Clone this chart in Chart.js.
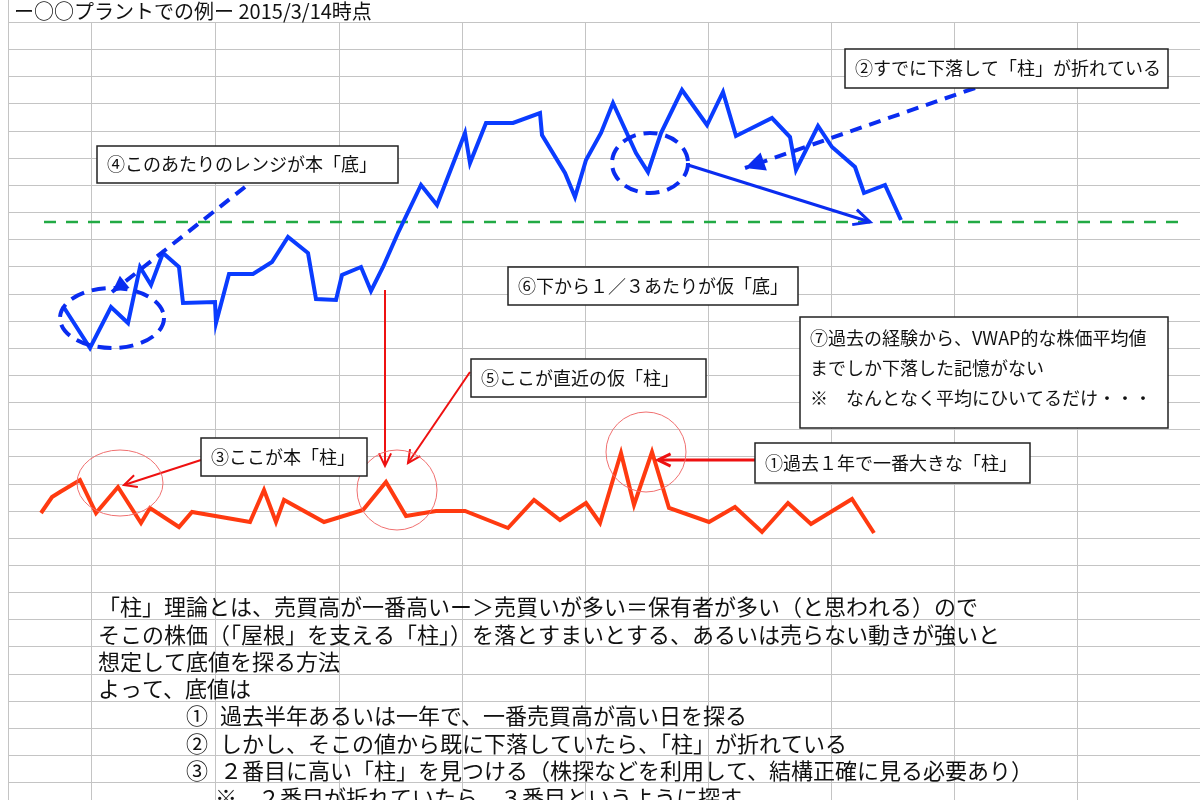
<!DOCTYPE html>
<html><head><meta charset="utf-8">
<script src="https://cdn.jsdelivr.net/npm/chart.js@4"></script>
<style>html,body{margin:0;padding:0;background:#fff}#w{width:1200px;height:800px}</style>
</head><body><div id="w"><canvas id="c"></canvas></div>
<script>
// price series (day position, value)
const blueDays=[63,90,111,128,140,151,163,179,183,215,216,229,253,272,288,308,316,336,342,361,371,383,398,421,437,465,470,486,513,540,542,565,575,586,601,613,636,648,661,682,707,723,736,772,790,796,818,832,855,864,885,901];
const blueVals=[494,452,493,477,533,515,547,533,497,498,477,526,526,538,563,547,501,500,525,533,509,533,567,615,595,667,637,677,677,687,665,627,603,640,667,697,647,628,667,710,675,708,664,682,663,630,674,653,633,607,615,580];
// volume series
const redDays=[41,52,60,80,96,118,141,150,179,192,250,264,276,284,324,363,386,406,436,465,508,534,560,586,600,621,634,652,669,709,735,762,788,811,852,874];
const redVals=[287,303,308,320,287,313,277,292,273,288,278,310,278,300,278,290,318,284,289,289,272,300,280,297,277,347,295,348,292,278,293,268,297,276,301,267];
const vwap=578;
const gridX=[8,91,215,339,462,585,708,831,954,1077,1200];
const notes=[
 "「柱」理論とは、売買高が一番高いー＞売買いが多い＝保有者が多い（と思われる）ので",
 "そこの株価（「屋根」を支える「柱」）を落とすまいとする、あるいは売らない動きが強いと",
 "想定して底値を探る方法",
 "よって、底値は"];
const steps=[["①","過去半年あるいは一年で、一番売買高が高い日を探る"],["②","しかし、そこの値から既に下落していたら、「柱」が折れている"],["③","２番目に高い「柱」を見つける（株探などを利用して、結構正確に見る必要あり）"],["※","２番目が折れていたら、３番目というように探す"]];
const F='"Noto Sans CJK JP","Noto Sans",sans-serif';

function arrowHead(ctx,x1,y1,x2,y2,size,fill){const a=Math.atan2(y2-y1,x2-x1);ctx.beginPath();ctx.moveTo(x2-size*Math.cos(a-0.45),y2-size*Math.sin(a-0.45));ctx.lineTo(x2,y2);ctx.lineTo(x2-size*Math.cos(a+0.45),y2-size*Math.sin(a+0.45));if(fill){ctx.closePath();ctx.fill();}else ctx.stroke();}
function arrow(ctx,x1,y1,x2,y2,col,w,dash,size,fill){ctx.save();ctx.strokeStyle=col;ctx.fillStyle=col;ctx.lineWidth=w;ctx.setLineDash(dash||[]);ctx.beginPath();ctx.moveTo(x1,y1);ctx.lineTo(x2,y2);ctx.stroke();ctx.setLineDash([]);arrowHead(ctx,x1,y1,x2,y2,size,fill);ctx.restore();}
function box(ctx,x1,y1,x2,y2,lines,fs,lh,ty){lh=lh||0;ctx.save();ctx.fillStyle='#fff';ctx.fillRect(x1,y1,x2-x1,y2-y1);ctx.strokeStyle='#222';ctx.lineWidth=1.5;ctx.strokeRect(x1,y1,x2-x1,y2-y1);ctx.fillStyle='#111';ctx.font=fs+'px '+F;ctx.textBaseline='middle';lines.forEach((t,i)=>ctx.fillText(t,x1+10,(ty||(y1+y2)/2)+i*lh));ctx.restore();}
function ell(ctx,cx,cy,rx,ry,col,w,dash){ctx.save();ctx.strokeStyle=col;ctx.lineWidth=w;ctx.setLineDash(dash||[]);ctx.beginPath();ctx.ellipse(cx,cy,rx,ry,0,0,Math.PI*2);ctx.stroke();ctx.restore();}

const bg={id:'bg',beforeDatasetsDraw(ch){const ctx=ch.ctx;ctx.save();ctx.strokeStyle='#c4c4c4';ctx.lineWidth=1;
 gridX.forEach(x=>{ctx.beginPath();ctx.moveTo(x+0.5,x===8?0:22);ctx.lineTo(x+0.5,800);ctx.stroke();});
 for(let y=22;y<800;y+=27.15){ctx.beginPath();ctx.moveTo(8,Math.round(y)+0.5);ctx.lineTo(1200,Math.round(y)+0.5);ctx.stroke();}
 ctx.fillStyle='#111';ctx.font='20px '+F;ctx.textBaseline='middle';ctx.fillText('ー○○プラントでの例ー 2015/3/14時点',14,11);
 ctx.font='22px '+F;notes.forEach((t,i)=>ctx.fillText(t,98,607+i*27.15));
 steps.forEach((s,i)=>{ctx.fillText(s[0],i===3?215:186,716+i*27.15);ctx.fillText(s[1],i===3?258:220,716+i*27.15);});
 ctx.restore();},
 afterDatasetsDraw(ch){const ctx=ch.ctx;
 arrow(ctx,245,187,112,292,'#0a2cf0',4,[12,8],18,true);
 arrow(ctx,975,88,745,168,'#0a2cf0',4,[12,8],22,true);
 arrow(ctx,688,165,870,222,'#0a2cf0',3,[],18,false);
 ell(ctx,112,318,52,30,'#0a2cf0',4,[14,8]);
 ell(ctx,650,163,38,30,'#0a2cf0',4,[14,8]);
 arrow(ctx,385,290,385,466,'#ee1111',2,[],14,false);
 arrow(ctx,470,372,408,463,'#ee1111',2,[],14,false);
 arrow(ctx,201,460,124,485,'#ee1111',2,[],14,false);
 arrow(ctx,755,460,658,460,'#ee1111',3,[],14,false);
 ell(ctx,120,483,43,33,'#f07070',1,[]);
 ell(ctx,397,490,40,40,'#f07070',1,[]);
 ell(ctx,646,452,40,40,'#f07070',1,[]);
 box(ctx,97,146,398,183,['④このあたりのレンジが本「底」'],18);
 box(ctx,845,49,1168,88,['②すでに下落して「柱」が折れている'],18);
 box(ctx,508,267,798,305,['⑥下から１／３あたりが仮「底」'],18);
 box(ctx,800,317,1168,428,['⑦過去の経験から、VWAP的な株価平均値','までしか下落した記憶がない','※　なんとなく平均にひいてるだけ・・・'],18,30,338);
 box(ctx,471,359,706,397,['⑤ここが直近の仮「柱」'],18);
 box(ctx,201,438,367,476,['③ここが本「柱」'],18);
 box(ctx,755,443,1030,483,['①過去１年で一番大きな「柱」'],18);
 }};

new Chart(document.getElementById('c'),{type:'line',
 data:{datasets:[
  {data:blueDays.map((d,i)=>({x:d,y:blueVals[i]})),borderColor:'#0a3cff',borderWidth:4,pointRadius:0,tension:0},
  {data:redDays.map((d,i)=>({x:d,y:redVals[i]})),borderColor:'#ff3a10',borderWidth:4,pointRadius:0,tension:0},
  {data:[{x:44,y:vwap},{x:1180,y:vwap}],borderColor:'#22aa44',borderWidth:2.5,borderDash:[12,10],pointRadius:0}
 ]},
 options:{responsive:true,maintainAspectRatio:false,animation:false,events:[],layout:{padding:0},
  plugins:{legend:{display:false},tooltip:{enabled:false}},
  scales:{x:{type:'linear',min:0,max:1200,display:false},y:{min:0,max:800,display:false}}},
 plugins:[bg]});
</script></body></html>
